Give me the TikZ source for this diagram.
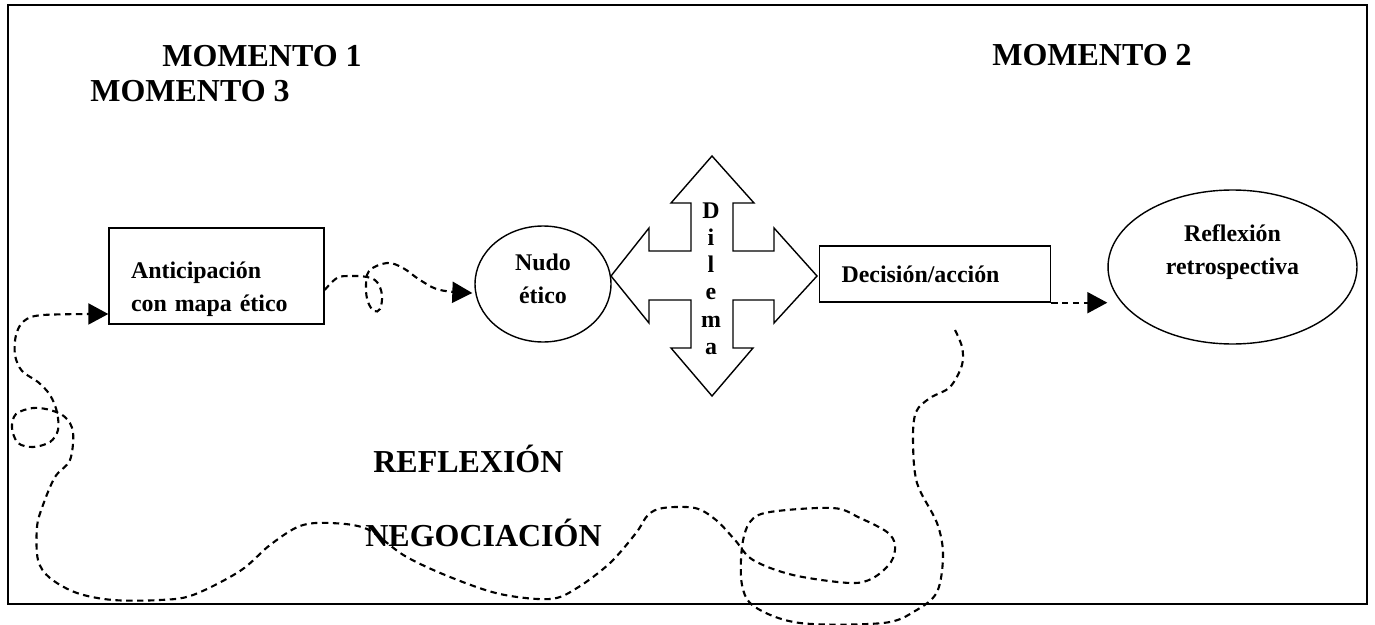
\documentclass[tikz,border=0pt]{standalone}
\usepackage{fontspec}
\setmainfont{Liberation Serif}
\usetikzlibrary{arrows.meta,shapes.geometric,calc}

\newcommand{\smallbf}{\fontsize{13.6}{18.8}\selectfont\bfseries}
\newcommand{\bigbf}{\fontsize{18.2}{22}\selectfont\bfseries}

\tikzset{
  box/.style={draw, line width=0.8pt, rectangle, inner xsep=0.44cm, align=left, font=\smallbf},
  oval/.style={draw, line width=0.8pt, ellipse, inner sep=0pt, align=center, font=\smallbf},
  title/.style={anchor=base west, inner sep=0pt, font=\bigbf},
  flow/.style={line width=1.2pt, dash pattern=on 3.6pt off 2.6pt, -{Triangle[length=0.4cm, width=0.42cm]}},
  wander/.style={line width=1.2pt, dash pattern=on 3.6pt off 2.6pt}
}

\begin{document}
\begin{tikzpicture}[line join=miter, x=0.02cm, y=-0.02cm]

  \useasboundingbox (0,0) rectangle (1375,625);
  \draw[line width=1.1pt] (8,5) rectangle (1367,604);

  % titles
  \node[title] (m1) at (162,67) {MOMENTO 1};
  \node[title] (m3) at (90,102) {MOMENTO 3};
  \node[title] (m2) at (992,66) {MOMENTO 2};
  \node[title] (refl) at (373,472) {REFLEXIÓN};
  \node[title] (nego) at (365,546) {NEGOCIACIÓN};

  % main nodes
  \node[box, text width=3.42cm, minimum height=1.92cm, text depth=0.24cm] (antic) at (216.5,276)
    {Anticipación\\con mapa ético};
  \node[oval, minimum width=2.72cm, minimum height=2.32cm, text depth=0.2cm] (nudo) at (543,284)
    {\fontsize{13.6}{19.4}\selectfont Nudo\\ético};
  \node[box, text width=3.74cm, minimum height=1.12cm] (decis) at (935,274) {Decisión/acción};
  \node[oval, minimum width=4.98cm, minimum height=3.08cm, text depth=0.7cm] (retro) at (1232.5,267)
    {\fontsize{13.6}{17.6}\selectfont Reflexión\\retrospectiva};

  % dilema cross
  \draw[line width=0.8pt] (712,156) -- (754,203) -- (733,203) -- (733,251) -- (774,251) -- (774,228)
    -- (817,276) -- (774,323) -- (774,300) -- (733,300) -- (733,348) -- (753,348) -- (712,396)
    -- (671,348) -- (691,348) -- (691,300) -- (649,300) -- (649,323) -- (611,276) -- (649,228)
    -- (649,251) -- (691,251) -- (691,203) -- (671,203) -- cycle;
  \node[anchor=north, inner sep=0pt, align=center, font=\fontsize{13.6}{15.55}\selectfont\bfseries] (dilema) at (711,202)
    {D\\i\\l\\e\\m\\a};

  % connectors
  \coordinate (anticout) at ($(antic.east)+(0,14)$);
  \coordinate (nudoin) at ($(nudo.west)+(-2,9)$);
  \coordinate (anticin) at ($(antic.west)+(0,38)$);
  \coordinate (loopstart) at (955,330);

  \draw[flow] plot[smooth, tension=0.6] coordinates {(anticout) (337,278) (350,276) (367,277) (377,282)
    (382,295) (380,309) (374,311) (368,302) (366,288) (369,271) (387,263) (403,268) (420,280) (440,290) (nudoin)};

  \draw[flow] (decis.south east) -- (decis.south east -| retro.west);

  \draw[flow] plot[smooth, tension=0.55] coordinates {(loopstart) (962,347) (962,365) (950,387) (930,398)
    (916,412) (913,440) (917,483) (937,523) (943,555) (937,592) (915,611) (883,623) (800,623)
    (755,607) (742,585) (742,547) (750,522) (770,512) (833,508) (860,518) (887,532) (895,545)
    (891,562) (873,578) (850,583) (793,575) (753,560) (735,540) (716,520) (695,508) (663,508)
    (648,515) (636,533) (610,563) (577,588) (550,599) (500,594) (450,577) (405,556) (367,529)
    (330,523) (300,526) (270,545) (240,571) (193,595) (160,600) (113,600) (77,593) (50,578)
    (38,560) (37,527) (43,505) (55,477) (70,460) (73,432) (65,417) (50,410) (33,408) (16,414)
    (12,428) (18,443) (33,447) (50,442) (58,430) (57,412) (50,395) (38,382) (22,371) (15,355)
    (16,335) (24,321) (43,315) (anticin)};

\end{tikzpicture}
\end{document}
